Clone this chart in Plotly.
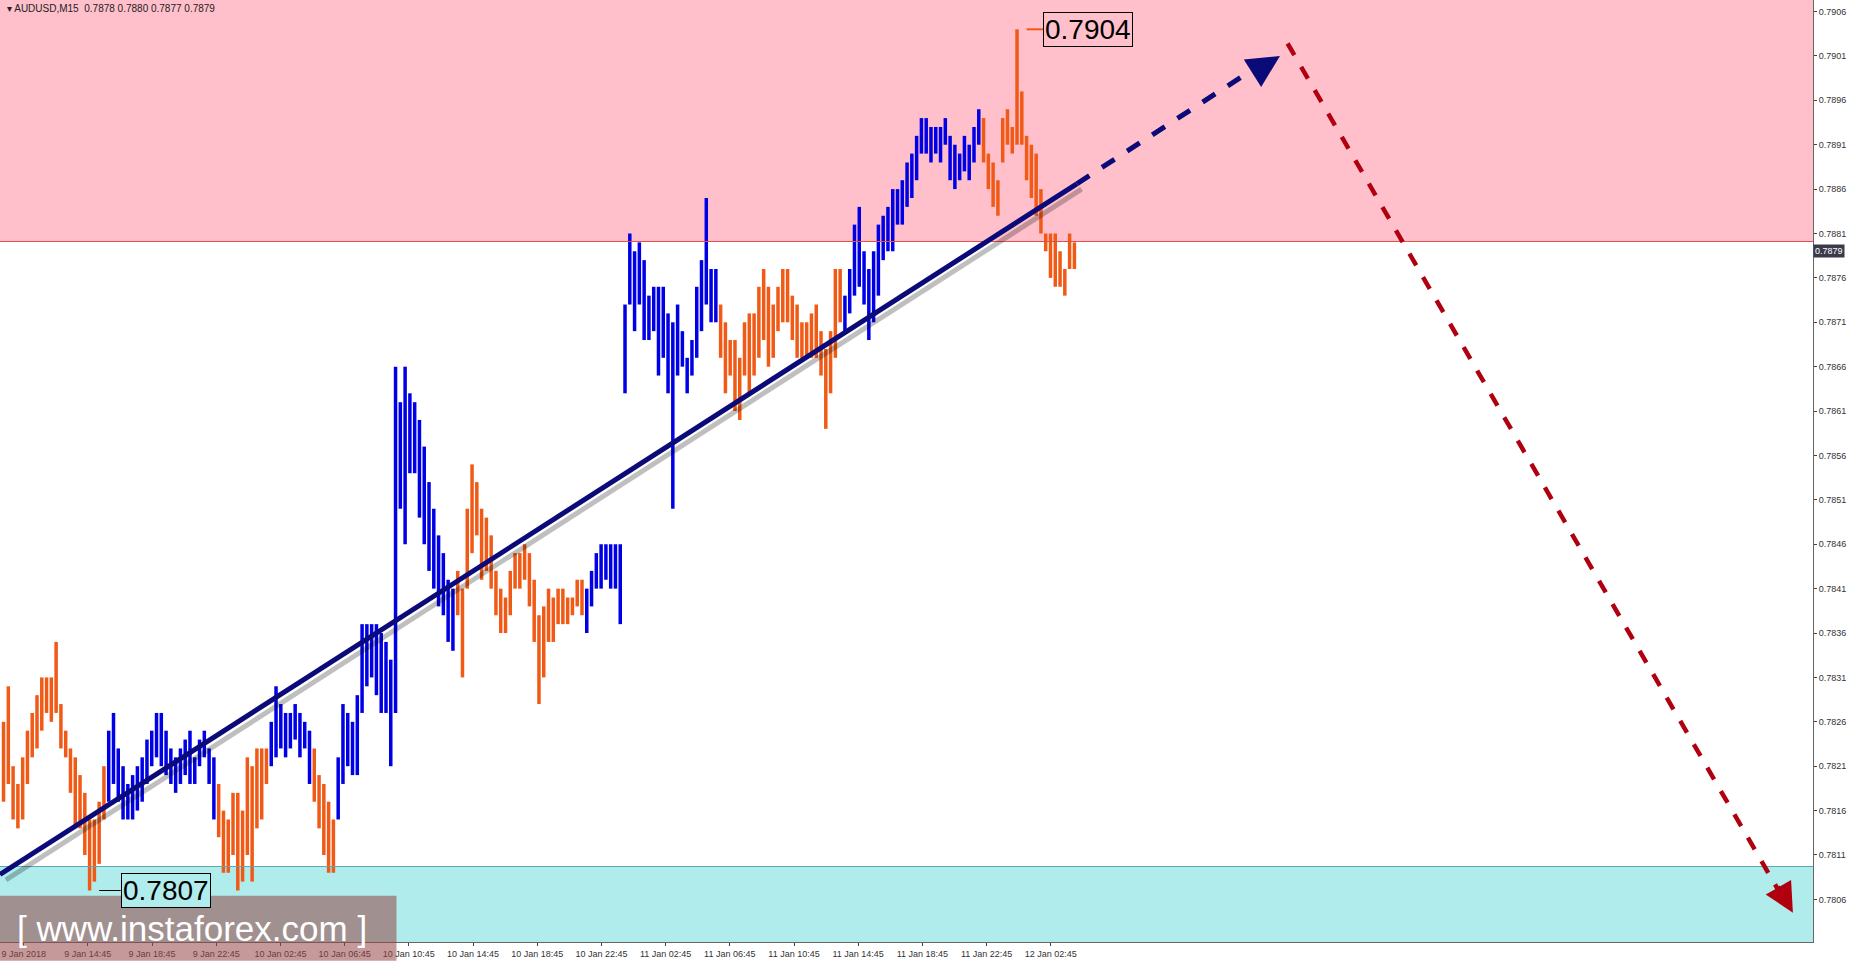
import plotly.graph_objects as go

# bar highs / lows in pips (price*10000), grouped by wave colour
wave_colors = ["orange","blue","orange","blue","orange","blue","orange","blue","orange","blue","orange"]
wave_hi = [
 [7826,7830,7821,7819,7822,7825,7827,7829,7831,7831,7831,7835,7828,7825,7823,7822,7820,7818,7815,7815,7817,7821],
 [7825,7827,7823,7821,7819,7820,7821,7822,7824,7825,7827,7827,7825,7823,7822,7823,7824,7825,7822,7824,7825,7823,7822],
 [7819,7816,7815,7818,7818,7816,7822,7821,7823,7823,7823],
 [7826,7830,7828,7827,7827,7828,7827,7826,7825],
 [7823,7820,7819,7817,7815],
 [7822,7828,7827,7826,7829,7837,7837,7837,7837,7836,7835,7833,7866,7862,7866,7863,7862,7860,7857,7853,7850,7847,7845,7842,7841],
 [7843,7841,7850,7855,7853,7850,7849,7847,7843,7841,7840,7843,7845,7845,7846,7845,7842,7838,7839,7841,7840,7841,7841,7840,7840,7842,7842],
 [7841,7843,7845,7846,7846,7846,7846,7846,7873,7881,7879,7880,7878,7874,7875,7875,7875,7872,7871,7873,7870,7867,7869,7875,7878,7885,7877,7877],
 [7873,7871,7869,7869,7867,7871,7872,7872,7875,7877,7875,7873,7875,7877,7877,7874,7873,7871,7871,7872,7873,7870,7868,7870,7877,7877],
 [7874,7877,7882,7884,7879,7877,7879,7882,7883,7884,7886,7886,7887,7889,7890,7892,7894,7894,7893,7893,7893,7894,7892,7891,7890,7892,7891,7893,7895],
 [7894,7890,7889,7887,7894,7895,7893,7904,7897,7892,7891,7890,7886,7881,7881,7881,7879,7877,7881,7880],
]
wave_lo = [
 [7817,7819,7815,7814,7815,7819,7822,7823,7825,7827,7826,7827,7823,7822,7818,7814,7814,7811,7807,7808,7810,7815],
 [7817,7819,7817,7815,7815,7815,7816,7817,7819,7821,7822,7821,7820,7819,7818,7819,7820,7819,7819,7821,7822,7819,7815],
 [7813,7809,7809,7811,7807,7808,7811,7808,7814,7815,7819],
 [7821,7822,7823,7822,7823,7824,7822,7823,7819],
 [7817,7814,7811,7809,7809],
 [7815,7819,7821,7820,7820,7827,7830,7831,7829,7827,7827,7821,7827,7850,7846,7854,7854,7849,7846,7843,7841,7839,7838,7835,7834],
 [7838,7831,7841,7845,7847,7842,7843,7841,7838,7836,7836,7838,7841,7841,7842,7839,7835,7828,7831,7835,7835,7837,7837,7837,7838,7839,7838],
 [7836,7839,7841,7841,7842,7841,7841,7837,7863,7873,7870,7873,7869,7869,7870,7865,7867,7863,7850,7865,7866,7863,7865,7867,7870,7873,7871,7871],
 [7867,7863,7865,7861,7860,7865,7863,7865,7867,7869,7866,7867,7870,7871,7871,7869,7867,7867,7867,7867,7867,7865,7859,7863,7867,7871],
 [7870,7872,7874,7875,7873,7869,7871,7874,7878,7879,7879,7882,7882,7884,7885,7887,7890,7890,7889,7890,7889,7891,7887,7886,7887,7888,7887,7889,7891],
 [7889,7886,7884,7883,7889,7891,7890,7891,7891,7887,7885,7883,7881,7879,7876,7875,7875,7874,7877,7877],
]

y_ticks = [7906,7901,7896,7891,7886,7881,7876,7871,7866,7861,7856,7851,7846,7841,7836,7831,7826,7821,7816,7811,7806]
date_labels = ["9 Jan 2018","9 Jan 14:45","9 Jan 18:45","9 Jan 22:45","10 Jan 02:45","10 Jan 06:45",
               "10 Jan 10:45","10 Jan 14:45","10 Jan 18:45","10 Jan 22:45","11 Jan 02:45","11 Jan 06:45",
               "11 Jan 10:45","11 Jan 14:45","11 Jan 18:45","11 Jan 22:45","12 Jan 02:45"]

COL = {"orange": "#f05a16", "blue": "#0000e6"}
fig = go.Figure()
idx = 0
for c, hs, ls in zip(wave_colors, wave_hi, wave_lo):
    xs, ys = [], []
    for h, l in zip(hs, ls):
        xs += [idx, idx, None]
        ys += [h/10000, l/10000, None]
        idx += 1
    fig.add_trace(go.Scatter(x=xs, y=ys, mode="lines", line=dict(color=COL[c], width=3.5),
                             hoverinfo="skip", showlegend=False))

y_lo, y_hi = 0.78012, 0.79073
x_lo, x_hi = -0.74, 378.5
shapes = [
    dict(type="rect", xref="paper", yref="y", x0=0, x1=1, y0=0.78801, y1=y_hi, fillcolor="#ffc0cb", line_width=0, layer="below"),
    dict(type="line", xref="paper", yref="y", x0=0, x1=1, y0=0.78801, y1=0.78801, line=dict(color="#e0504a", width=1)),
    dict(type="rect", xref="paper", yref="y", x0=0, x1=1, y0=y_lo, y1=0.78097, fillcolor="#b0ecec", line_width=0, layer="below"),
    dict(type="line", xref="paper", yref="y", x0=0, x1=1, y0=0.78097, y1=0.78097, line=dict(color="#5aa8b0", width=1)),
    dict(type="line", x0=0.5, y0=0.78082, x1=225.5, y1=0.7886, line=dict(color="rgba(0,0,0,0.25)", width=5)),
    dict(type="line", x0=-0.74, y0=0.78088, x1=224.5, y1=0.78866, line=dict(color="#0a0a78", width=5)),
    dict(type="line", x0=224.5, y0=0.78866, x1=264, y1=0.79004, line=dict(color="#0a0a78", width=5, dash="dash")),
    dict(type="line", x0=268.6, y0=0.79024, x1=371.5, y1=0.78068, line=dict(color="#b00010", width=4.5, dash="dash")),
    dict(type="line", x0=214, y0=0.7904, x1=217.5, y1=0.7904, line=dict(color="#f05a16", width=2)),
    dict(type="line", x0=20, y0=0.7807, x1=24.5, y1=0.7807, line=dict(color="#000", width=1)),
    dict(type="rect", xref="paper", yref="paper", x0=0, x1=0.2187, y0=-0.02, y1=0.049,
         fillcolor="rgba(150,70,70,0.55)", line_width=0),
]
ann = [
    dict(x=0.008, y=0.014, xref="paper", yref="paper", xanchor="left", yanchor="middle",
         text="[ www.instaforex.com ]", showarrow=False,
         font=dict(size=35, color="white", family="Liberation Sans")),
    dict(x=267, y=0.7901, ax=262, ay=0.78993, xref="x", yref="y", axref="x", ayref="y", text="",
         showarrow=True, arrowhead=2, arrowsize=1.3, arrowwidth=5, arrowcolor="#0a0a78"),
    dict(x=374.3, y=0.78045, ax=371, ay=0.78076, xref="x", yref="y", axref="x", ayref="y", text="",
         showarrow=True, arrowhead=2, arrowsize=1.3, arrowwidth=4.5, arrowcolor="#b00010"),
    dict(x=217.5, y=0.7904, xanchor="left", text="0.7904", showarrow=False, bgcolor="#ffc0cb",
         bordercolor="#000", borderwidth=1, borderpad=1, font=dict(size=28, color="#000", family="Liberation Sans")),
    dict(x=24.5, y=0.7807, xanchor="left", text="0.7807", showarrow=False, bgcolor="#b0ecec",
         bordercolor="#000", borderwidth=1, borderpad=1, font=dict(size=28, color="#000", family="Liberation Sans")),
    dict(x=0.003, y=0.999, xref="paper", yref="paper", xanchor="left", yanchor="top",
         text="▾ AUDUSD,M15  0.7878 0.7880 0.7877 0.7879", showarrow=False,
         font=dict(size=10, color="#222", family="Liberation Sans")),
    dict(x=1.0, y=0.7879, xref="paper", yref="y", xanchor="left", text="0.7879", showarrow=False,
         bgcolor="#3a3a4a", font=dict(size=9, color="white", family="Liberation Sans"), borderpad=1),
]
tick_x = [(20 + 54.25*k - 3)/4.04 for k in range(len(date_labels))]
fig.update_layout(
    width=1855, height=966, margin=dict(l=0, r=42, t=0, b=24),
    plot_bgcolor="white", paper_bgcolor="white", shapes=shapes, annotations=ann,
    xaxis=dict(range=[x_lo, x_hi], tickvals=tick_x, ticktext=date_labels, showgrid=False, zeroline=False,
               tickfont=dict(size=9, color="#333", family="Liberation Sans"), ticks="outside", ticklen=3,
               showline=True, linecolor="#666", mirror=True),
    yaxis=dict(range=[y_lo, y_hi], side="right", tickvals=[v/10000 for v in y_ticks],
               ticktext=["%.4f" % (v/10000) for v in y_ticks], showgrid=False, zeroline=False,
               tickfont=dict(size=9, color="#333", family="Liberation Sans"), ticks="outside", ticklen=3,
               showline=True, linecolor="#666", mirror=True),
)
fig.write_html("out.html", config={"displayModeBar": False},
               post_script="document.body.style.margin='0';document.body.style.overflow='hidden';")
